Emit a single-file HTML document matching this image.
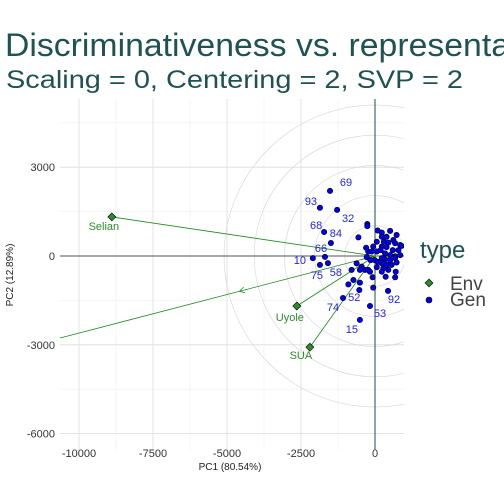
<!DOCTYPE html>
<html><head><meta charset="utf-8"><style>
body{margin:0;background:#fff;}
svg{display:block;font-family:"Liberation Sans",sans-serif;}
</style></head><body>
<svg id="chart" width="504" height="504" viewBox="0 0 504 504">
<text x="5" y="56" font-size="32" fill="#1f5252" textLength="505" lengthAdjust="spacingAndGlyphs">Discriminativeness vs. representa</text>
<text x="6" y="88" font-size="25" fill="#1f5252" textLength="457" lengthAdjust="spacingAndGlyphs">Scaling = 0, Centering = 2, SVP = 2</text>
<defs><clipPath id="pc"><rect x="60" y="99" width="344" height="351"/></clipPath></defs>
<rect x="60" y="99" width="344" height="351" fill="#fff"/>
<g id="grid"></g>
<g id="circles" clip-path="url(#pc)"></g>
<g id="marks" clip-path="url(#pc)"></g>
<g id="axes"></g>
<text x="230" y="470" font-size="10" text-anchor="middle" fill="#222">PC1 (80.54%)</text>
<text transform="translate(13,275) rotate(-90)" font-size="10" text-anchor="middle" fill="#222">PC2 (12.89%)</text>
<g>
<text x="420" y="258" font-size="24" fill="#1f5252">type</text>
<g><path d="M429,279 L433,283 L429,287 L425,283Z" fill="#2e8b2e" stroke="#000" stroke-width="0.6"/><text x="450" y="290" font-size="19" fill="#444">Env</text></g>
<g><circle cx="429" cy="300" r="3" fill="#0000ee" stroke="#000" stroke-width="0.6"/><text x="450" y="306" font-size="19" fill="#444">Gen</text></g>
</g>
</svg>
<script>
const xTicks=[-10000,-7500,-5000,-2500,0];
const yTicks=[3000,0,-3000,-6000];
const envNames=["Selian","Uyole","SUA"];
const envX=[-8890,-2640,-2200];
const envY=[1320,-1690,-3080];
const genLabels=["69","93","32","68","84","66","10","75","58","52","74","92","53","15"];
const genLX=[-1520,-1860,-1280,-1720,-1490,-1690,-2100,-1860,-1590,-530,-1080,440,-170,-510];
const genLY=[2200,1630,1560,810,440,-30,-70,-300,-240,-1150,-1420,-1180,-1690,-2160];
const clusterX=[-260,-260,-560,90,230,510,730,390,620,230,300,450,680,850,60,-60,230,390,600,790,900,-300,-230,-110,60,190,340,510,680,850,-280,-150,-10,230,340,510,680,230,60,280,390,560,730,-620,-450,-340,-230,-510,-170,-790,-730,-900,-510,-80,230,360,700,680,-60,100,450];
const clusterY=[1080,1010,630,860,790,850,710,650,540,650,480,450,430,370,480,320,320,300,200,200,340,280,150,150,150,200,90,30,-10,30,-40,-140,-140,-70,-110,-140,-70,-250,-380,-420,-300,-300,-220,-250,-360,-470,-470,-470,-530,-470,-810,-960,-900,-720,-530,-700,-530,-720,-1070,-200,-470];
const extraDir=[-10640,-2770];
const circleRadii=[1020,2040,3060,4080,5100];

const X0=375,Y0=256,K=0.02960;
const sx=v=>X0+v*K, sy=v=>Y0-v*K;
const NS="http://www.w3.org/2000/svg";
function mk(tag,attrs,parent){const e=document.createElementNS(NS,tag);for(const k in attrs)e.setAttribute(k,attrs[k]);parent.appendChild(e);return e;}
const grid=document.getElementById('grid'),circ=document.getElementById('circles'),marks=document.getElementById('marks'),axes=document.getElementById('axes');
for(let i=0;i<xTicks.length;i++){const v=xTicks[i]+1250;if(sx(v)<404){const l=mk('line',{x1:sx(v),x2:sx(v),y1:99,y2:450,stroke:'#f0f0f0','stroke-width':0.6},grid);}}
[4500,1500,-1500,-4500].forEach(v=>{const l=mk('line',{x1:60,x2:404,y1:sy(v),y2:sy(v),stroke:'#f0f0f0','stroke-width':0.6},grid);});
xTicks.forEach(v=>{const l=mk('line',{x1:sx(v),x2:sx(v),y1:99,y2:450,stroke:'#dcdcdc','stroke-width':0.8},grid);
const t=mk('text',{x:sx(v),y:457,'font-size':11,'text-anchor':'middle',fill:'#333'},axes);t.textContent=v;});
yTicks.forEach(v=>{const l=mk('line',{x1:60,x2:404,y1:sy(v),y2:sy(v),stroke:'#dcdcdc','stroke-width':0.8},grid);
const t=mk('text',{x:55,y:sy(v)+4,'font-size':11,'text-anchor':'end',fill:'#333'},axes);t.textContent=v;});
circleRadii.forEach(r=>{const c=mk('circle',{cx:sx(0),cy:sy(0),r:r*K,fill:'none',stroke:'#d4d4d4','stroke-width':0.6},circ);});
let a=mk('line',{x1:60,x2:404,y1:sy(0),y2:sy(0),stroke:'#222','stroke-width':0.8},marks);
a=mk('line',{x1:sx(0),x2:sx(0),y1:99,y2:450,stroke:'#1f4e4e','stroke-width':1},marks);
a=mk('line',{x1:sx(0),y1:sy(0),x2:sx(extraDir[0]),y2:sy(extraDir[1]),stroke:'#1a8a1a','stroke-width':0.8},marks);
{const f=0.43,ax=sx(extraDir[0]*f),ay=sy(extraDir[1]*f);const dx=sx(extraDir[0])-sx(0),dy=sy(extraDir[1])-sy(0),L=Math.hypot(dx,dy),ux=dx/L,uy=dy/L;
const p=mk('polyline',{points:`${ax-ux*5-uy*3},${ay-uy*5+ux*3} ${ax},${ay} ${ax-ux*5+uy*3},${ay-uy*5-ux*3}`,fill:'none',stroke:'#1a8a1a','stroke-width':0.8},marks);}
for(let i=0;i<envNames.length;i++){const l=mk('line',{x1:sx(0),y1:sy(0),x2:sx(envX[i]),y2:sy(envY[i]),stroke:'#1a8a1a','stroke-width':0.8},marks);}
for(let i=0;i<clusterX.length;i++){const c=mk('circle',{cx:sx(clusterX[i]),cy:sy(clusterY[i]),r:2.7,fill:'#0000ee',stroke:'#000','stroke-width':0.6},marks);}
for(let i=0;i<genLabels.length;i++){const c=mk('circle',{cx:sx(genLX[i]),cy:sy(genLY[i]),r:2.7,fill:'#0000ee',stroke:'#000','stroke-width':0.6},marks);}
const offs=[[16,-5],[-9,-3],[11,12],[-8,-3],[5,-6],[-4,-5],[-13,6],[-3,14],[8,13],[-5,11],[-10,13],[6,12],[10,11],[-8,13]];
for(let i=0;i<genLabels.length;i++){const t=mk('text',{x:sx(genLX[i])+offs[i][0],y:sy(genLY[i])+offs[i][1],'font-size':11,'text-anchor':'middle',fill:'#2222ee'},marks);t.textContent=genLabels[i];}
const eoffs=[[-8,13],[-7,15],[-9,12]];
for(let i=0;i<envNames.length;i++){const x=sx(envX[i]),y=sy(envY[i]);const d=mk('path',{d:`M${x},${y-4}L${x+4},${y}L${x},${y+4}L${x-4},${y}Z`,fill:'#2e8b2e',stroke:'#000','stroke-width':0.6},marks);
const t=mk('text',{x:x+eoffs[i][0],y:y+eoffs[i][1],'font-size':11,'text-anchor':'middle',fill:'#2e8b2e'},marks);t.textContent=envNames[i];}
</script>
</body></html>
